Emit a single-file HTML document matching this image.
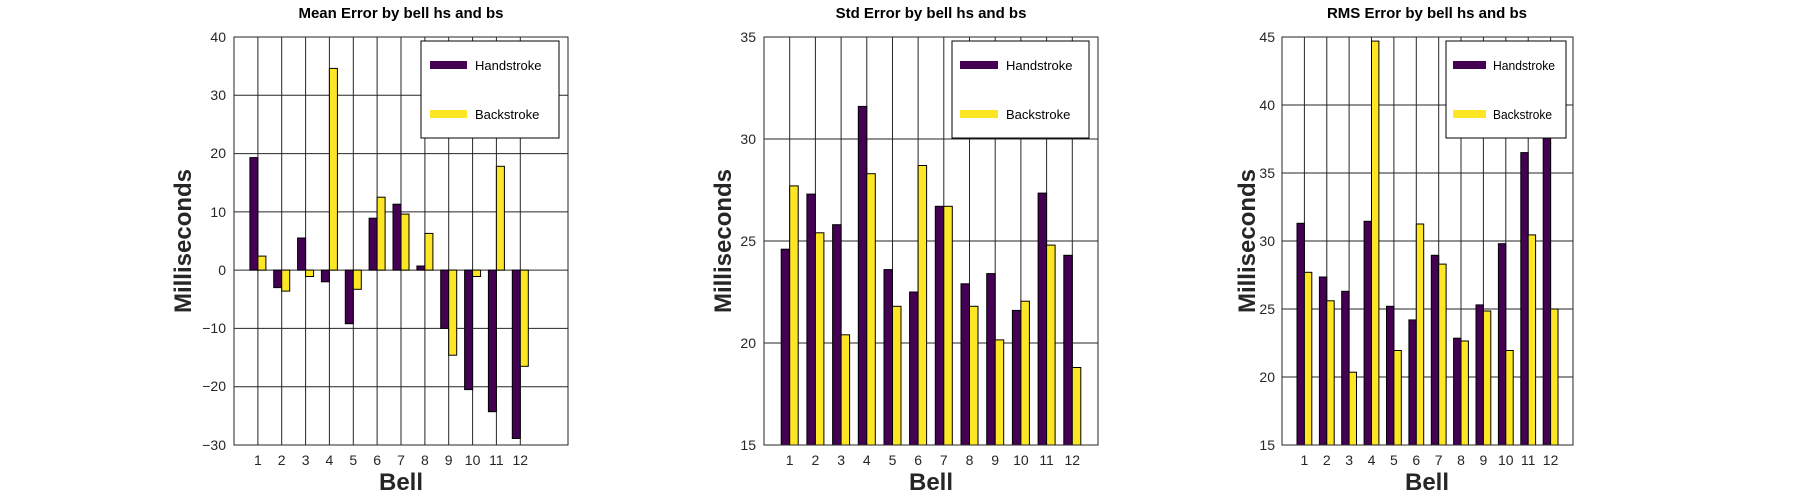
<!DOCTYPE html>
<html><head><meta charset="utf-8"><style>
html,body{margin:0;padding:0;background:#fff}
svg{display:block}
text{font-family:"Liberation Sans",sans-serif;fill:#262626}
.t{font-weight:bold;font-size:15px;fill:#000}
.k{font-size:14px}
.lab{font-weight:bold;font-size:24px}
.lg{font-size:13px;fill:#000}
.g line{stroke:#262626;stroke-width:1}
.h{fill:#440154;stroke:#000;stroke-width:1}
.b{fill:#fde725;stroke:#000;stroke-width:1}
</style></head><body>
<svg width="1800" height="500" viewBox="0 0 1800 500" xmlns="http://www.w3.org/2000/svg">
<rect width="1800" height="500" fill="#fff"/>

<!-- Chart 1 -->
<g class="g">
<line x1="234" y1="95.3" x2="568" y2="95.3"/><line x1="234" y1="153.6" x2="568" y2="153.6"/><line x1="234" y1="211.9" x2="568" y2="211.9"/><line x1="234" y1="270.1" x2="568" y2="270.1"/><line x1="234" y1="328.4" x2="568" y2="328.4"/><line x1="234" y1="386.7" x2="568" y2="386.7"/>
<line x1="257.9" y1="37" x2="257.9" y2="445"/><line x1="281.7" y1="37" x2="281.7" y2="445"/><line x1="305.6" y1="37" x2="305.6" y2="445"/><line x1="329.4" y1="37" x2="329.4" y2="445"/><line x1="353.3" y1="37" x2="353.3" y2="445"/><line x1="377.1" y1="37" x2="377.1" y2="445"/><line x1="401" y1="37" x2="401" y2="445"/><line x1="424.9" y1="37" x2="424.9" y2="445"/><line x1="448.7" y1="37" x2="448.7" y2="445"/><line x1="472.6" y1="37" x2="472.6" y2="445"/><line x1="496.4" y1="37" x2="496.4" y2="445"/><line x1="520.3" y1="37" x2="520.3" y2="445"/>
</g>
<rect class="h" x="249.9" y="157.6" width="8" height="112.5"/>
<rect class="h" x="273.7" y="270.1" width="8" height="17.5"/>
<rect class="h" x="297.6" y="238" width="8" height="32.1"/>
<rect class="h" x="321.4" y="270.1" width="8" height="11.7"/>
<rect class="h" x="345.3" y="270.1" width="8" height="53.6"/>
<rect class="h" x="369.1" y="218.2" width="8" height="51.9"/>
<rect class="h" x="393" y="204.2" width="8" height="65.9"/>
<rect class="h" x="416.9" y="266" width="8" height="4.1"/>
<rect class="h" x="440.7" y="270.1" width="8" height="58.3"/>
<rect class="h" x="464.6" y="270.1" width="8" height="119.5"/>
<rect class="h" x="488.4" y="270.1" width="8" height="141.6"/>
<rect class="h" x="512.3" y="270.1" width="8" height="168.4"/>
<rect class="b" x="257.9" y="256.1" width="8" height="14"/>
<rect class="b" x="281.7" y="270.1" width="8" height="21"/>
<rect class="b" x="305.6" y="270.1" width="8" height="6.4"/>
<rect class="b" x="329.4" y="68.4" width="8" height="201.7"/>
<rect class="b" x="353.3" y="270.1" width="8" height="19.2"/>
<rect class="b" x="377.1" y="197.2" width="8" height="72.9"/>
<rect class="b" x="401" y="214.1" width="8" height="56"/>
<rect class="b" x="424.9" y="233.4" width="8" height="36.7"/>
<rect class="b" x="448.7" y="270.1" width="8" height="85.1"/>
<rect class="b" x="472.6" y="270.1" width="8" height="6.4"/>
<rect class="b" x="496.4" y="166.3" width="8" height="103.8"/>
<rect class="b" x="520.3" y="270.1" width="8" height="96.2"/>
<rect x="234" y="37" width="334" height="408" fill="none" stroke="#262626"/>
<rect x="421" y="41" width="138" height="97" fill="#fff" stroke="#000"/>
<rect x="430" y="61" width="37" height="8" fill="#440154"/>
<text class="lg" x="475" y="70">Handstroke</text>
<rect x="430" y="110" width="37" height="8" fill="#fde725"/>
<text class="lg" x="475" y="119">Backstroke</text>
<g class="k" text-anchor="end">
<text x="226" y="42">40</text><text x="226" y="100">30</text><text x="226" y="158">20</text><text x="226" y="217">10</text><text x="226" y="275">0</text><text x="226" y="333">−10</text><text x="226" y="391">−20</text><text x="226" y="450">−30</text>
</g>
<g class="k" text-anchor="middle">
<text x="257.9" y="465">1</text><text x="281.7" y="465">2</text><text x="305.6" y="465">3</text><text x="329.4" y="465">4</text><text x="353.3" y="465">5</text><text x="377.1" y="465">6</text><text x="401" y="465">7</text><text x="424.9" y="465">8</text><text x="448.7" y="465">9</text><text x="472.6" y="465">10</text><text x="496.4" y="465">11</text><text x="520.3" y="465">12</text>
</g>
<text class="t" x="401" y="18" text-anchor="middle">Mean Error by bell hs and bs</text>
<text class="lab" x="401" y="490" text-anchor="middle">Bell</text>
<text class="lab" transform="translate(191,241) rotate(-90)" text-anchor="middle">Milliseconds</text>

<!-- Chart 2 -->
<g class="g">
<line x1="764" y1="139" x2="1098" y2="139"/><line x1="764" y1="241" x2="1098" y2="241"/><line x1="764" y1="343" x2="1098" y2="343"/>
<line x1="789.7" y1="37" x2="789.7" y2="445"/><line x1="815.4" y1="37" x2="815.4" y2="445"/><line x1="841.1" y1="37" x2="841.1" y2="445"/><line x1="866.8" y1="37" x2="866.8" y2="445"/><line x1="892.5" y1="37" x2="892.5" y2="445"/><line x1="918.1" y1="37" x2="918.1" y2="445"/><line x1="943.8" y1="37" x2="943.8" y2="445"/><line x1="969.5" y1="37" x2="969.5" y2="445"/><line x1="995.2" y1="37" x2="995.2" y2="445"/><line x1="1020.9" y1="37" x2="1020.9" y2="445"/><line x1="1046.6" y1="37" x2="1046.6" y2="445"/><line x1="1072.3" y1="37" x2="1072.3" y2="445"/>
</g>
<rect class="h" x="781.2" y="249.2" width="8.5" height="195.8"/>
<rect class="h" x="806.9" y="194.1" width="8.5" height="250.9"/>
<rect class="h" x="832.6" y="224.7" width="8.5" height="220.3"/>
<rect class="h" x="858.3" y="106.4" width="8.5" height="338.6"/>
<rect class="h" x="884" y="269.6" width="8.5" height="175.4"/>
<rect class="h" x="909.6" y="292" width="8.5" height="153"/>
<rect class="h" x="935.3" y="206.3" width="8.5" height="238.7"/>
<rect class="h" x="961" y="283.8" width="8.5" height="161.2"/>
<rect class="h" x="986.7" y="273.6" width="8.5" height="171.4"/>
<rect class="h" x="1012.4" y="310.4" width="8.5" height="134.6"/>
<rect class="h" x="1038.1" y="193.1" width="8.5" height="251.9"/>
<rect class="h" x="1063.8" y="255.3" width="8.5" height="189.7"/>
<rect class="b" x="789.7" y="185.9" width="8.5" height="259.1"/>
<rect class="b" x="815.4" y="232.8" width="8.5" height="212.2"/>
<rect class="b" x="841.1" y="334.8" width="8.5" height="110.2"/>
<rect class="b" x="866.8" y="173.7" width="8.5" height="271.3"/>
<rect class="b" x="892.5" y="306.3" width="8.5" height="138.7"/>
<rect class="b" x="918.1" y="165.5" width="8.5" height="279.5"/>
<rect class="b" x="943.8" y="206.3" width="8.5" height="238.7"/>
<rect class="b" x="969.5" y="306.3" width="8.5" height="138.7"/>
<rect class="b" x="995.2" y="339.9" width="8.5" height="105.1"/>
<rect class="b" x="1020.9" y="301.2" width="8.5" height="143.8"/>
<rect class="b" x="1046.6" y="245.1" width="8.5" height="199.9"/>
<rect class="b" x="1072.3" y="367.5" width="8.5" height="77.5"/>
<rect x="764" y="37" width="334" height="408" fill="none" stroke="#262626"/>
<rect x="952" y="41" width="137" height="97" fill="#fff" stroke="#000"/>
<rect x="960" y="61" width="38" height="8" fill="#440154"/>
<text class="lg" x="1006" y="70">Handstroke</text>
<rect x="960" y="110" width="38" height="8" fill="#fde725"/>
<text class="lg" x="1006" y="119">Backstroke</text>
<g class="k" text-anchor="end">
<text x="756" y="42">35</text><text x="756" y="144">30</text><text x="756" y="246">25</text><text x="756" y="348">20</text><text x="756" y="450">15</text>
</g>
<g class="k" text-anchor="middle">
<text x="789.7" y="465">1</text><text x="815.4" y="465">2</text><text x="841.1" y="465">3</text><text x="866.8" y="465">4</text><text x="892.5" y="465">5</text><text x="918.1" y="465">6</text><text x="943.8" y="465">7</text><text x="969.5" y="465">8</text><text x="995.2" y="465">9</text><text x="1020.9" y="465">10</text><text x="1046.6" y="465">11</text><text x="1072.3" y="465">12</text>
</g>
<text class="t" x="931" y="18" text-anchor="middle">Std Error by bell hs and bs</text>
<text class="lab" x="931" y="490" text-anchor="middle">Bell</text>
<text class="lab" transform="translate(731,241) rotate(-90)" text-anchor="middle">Milliseconds</text>

<!-- Chart 3 -->
<g class="g">
<line x1="1282" y1="105" x2="1573" y2="105"/><line x1="1282" y1="173" x2="1573" y2="173"/><line x1="1282" y1="241" x2="1573" y2="241"/><line x1="1282" y1="309" x2="1573" y2="309"/><line x1="1282" y1="377" x2="1573" y2="377"/>
<line x1="1304.4" y1="37" x2="1304.4" y2="445"/><line x1="1326.8" y1="37" x2="1326.8" y2="445"/><line x1="1349.1" y1="37" x2="1349.1" y2="445"/><line x1="1371.5" y1="37" x2="1371.5" y2="445"/><line x1="1393.9" y1="37" x2="1393.9" y2="445"/><line x1="1416.3" y1="37" x2="1416.3" y2="445"/><line x1="1438.7" y1="37" x2="1438.7" y2="445"/><line x1="1461" y1="37" x2="1461" y2="445"/><line x1="1483.4" y1="37" x2="1483.4" y2="445"/><line x1="1505.8" y1="37" x2="1505.8" y2="445"/><line x1="1528.2" y1="37" x2="1528.2" y2="445"/><line x1="1550.6" y1="37" x2="1550.6" y2="445"/>
</g>
<rect class="h" x="1297" y="223.3" width="7.4" height="221.7"/>
<rect class="h" x="1319.4" y="277" width="7.4" height="168"/>
<rect class="h" x="1341.7" y="291.3" width="7.4" height="153.7"/>
<rect class="h" x="1364.1" y="221.3" width="7.4" height="223.7"/>
<rect class="h" x="1386.5" y="306.3" width="7.4" height="138.7"/>
<rect class="h" x="1408.9" y="319.9" width="7.4" height="125.1"/>
<rect class="h" x="1431.3" y="255.3" width="7.4" height="189.7"/>
<rect class="h" x="1453.6" y="338.2" width="7.4" height="106.8"/>
<rect class="h" x="1476" y="304.9" width="7.4" height="140.1"/>
<rect class="h" x="1498.4" y="243.7" width="7.4" height="201.3"/>
<rect class="h" x="1520.8" y="152.6" width="7.4" height="292.4"/>
<rect class="h" x="1543.2" y="136.3" width="7.4" height="308.7"/>
<rect class="b" x="1304.4" y="272.3" width="7.4" height="172.7"/>
<rect class="b" x="1326.8" y="300.8" width="7.4" height="144.2"/>
<rect class="b" x="1349.1" y="372.2" width="7.4" height="72.8"/>
<rect class="b" x="1371.5" y="41.1" width="7.4" height="403.9"/>
<rect class="b" x="1393.9" y="350.5" width="7.4" height="94.5"/>
<rect class="b" x="1416.3" y="224" width="7.4" height="221"/>
<rect class="b" x="1438.7" y="264.1" width="7.4" height="180.9"/>
<rect class="b" x="1461" y="341" width="7.4" height="104"/>
<rect class="b" x="1483.4" y="311" width="7.4" height="134"/>
<rect class="b" x="1505.8" y="350.5" width="7.4" height="94.5"/>
<rect class="b" x="1528.2" y="234.9" width="7.4" height="210.1"/>
<rect class="b" x="1550.6" y="309" width="7.4" height="136"/>
<rect x="1282" y="37" width="291" height="408" fill="none" stroke="#262626"/>
<rect x="1446" y="41" width="120" height="97" fill="#fff" stroke="#000"/>
<rect x="1453" y="61" width="33" height="8" fill="#440154"/>
<text class="lg" x="1493" y="70" textLength="62" lengthAdjust="spacingAndGlyphs">Handstroke</text>
<rect x="1453" y="110" width="33" height="8" fill="#fde725"/>
<text class="lg" x="1493" y="119" textLength="59" lengthAdjust="spacingAndGlyphs">Backstroke</text>
<g class="k" text-anchor="end">
<text x="1275" y="42">45</text><text x="1275" y="110">40</text><text x="1275" y="178">35</text><text x="1275" y="246">30</text><text x="1275" y="314">25</text><text x="1275" y="382">20</text><text x="1275" y="450">15</text>
</g>
<g class="k" text-anchor="middle">
<text x="1304.4" y="465">1</text><text x="1326.8" y="465">2</text><text x="1349.1" y="465">3</text><text x="1371.5" y="465">4</text><text x="1393.9" y="465">5</text><text x="1416.3" y="465">6</text><text x="1438.7" y="465">7</text><text x="1461" y="465">8</text><text x="1483.4" y="465">9</text><text x="1505.8" y="465">10</text><text x="1528.2" y="465">11</text><text x="1550.6" y="465">12</text>
</g>
<text class="t" x="1427" y="18" text-anchor="middle">RMS Error by bell hs and bs</text>
<text class="lab" x="1427" y="490" text-anchor="middle">Bell</text>
<text class="lab" transform="translate(1255,241) rotate(-90)" text-anchor="middle">Milliseconds</text>
</svg>
</body></html>
